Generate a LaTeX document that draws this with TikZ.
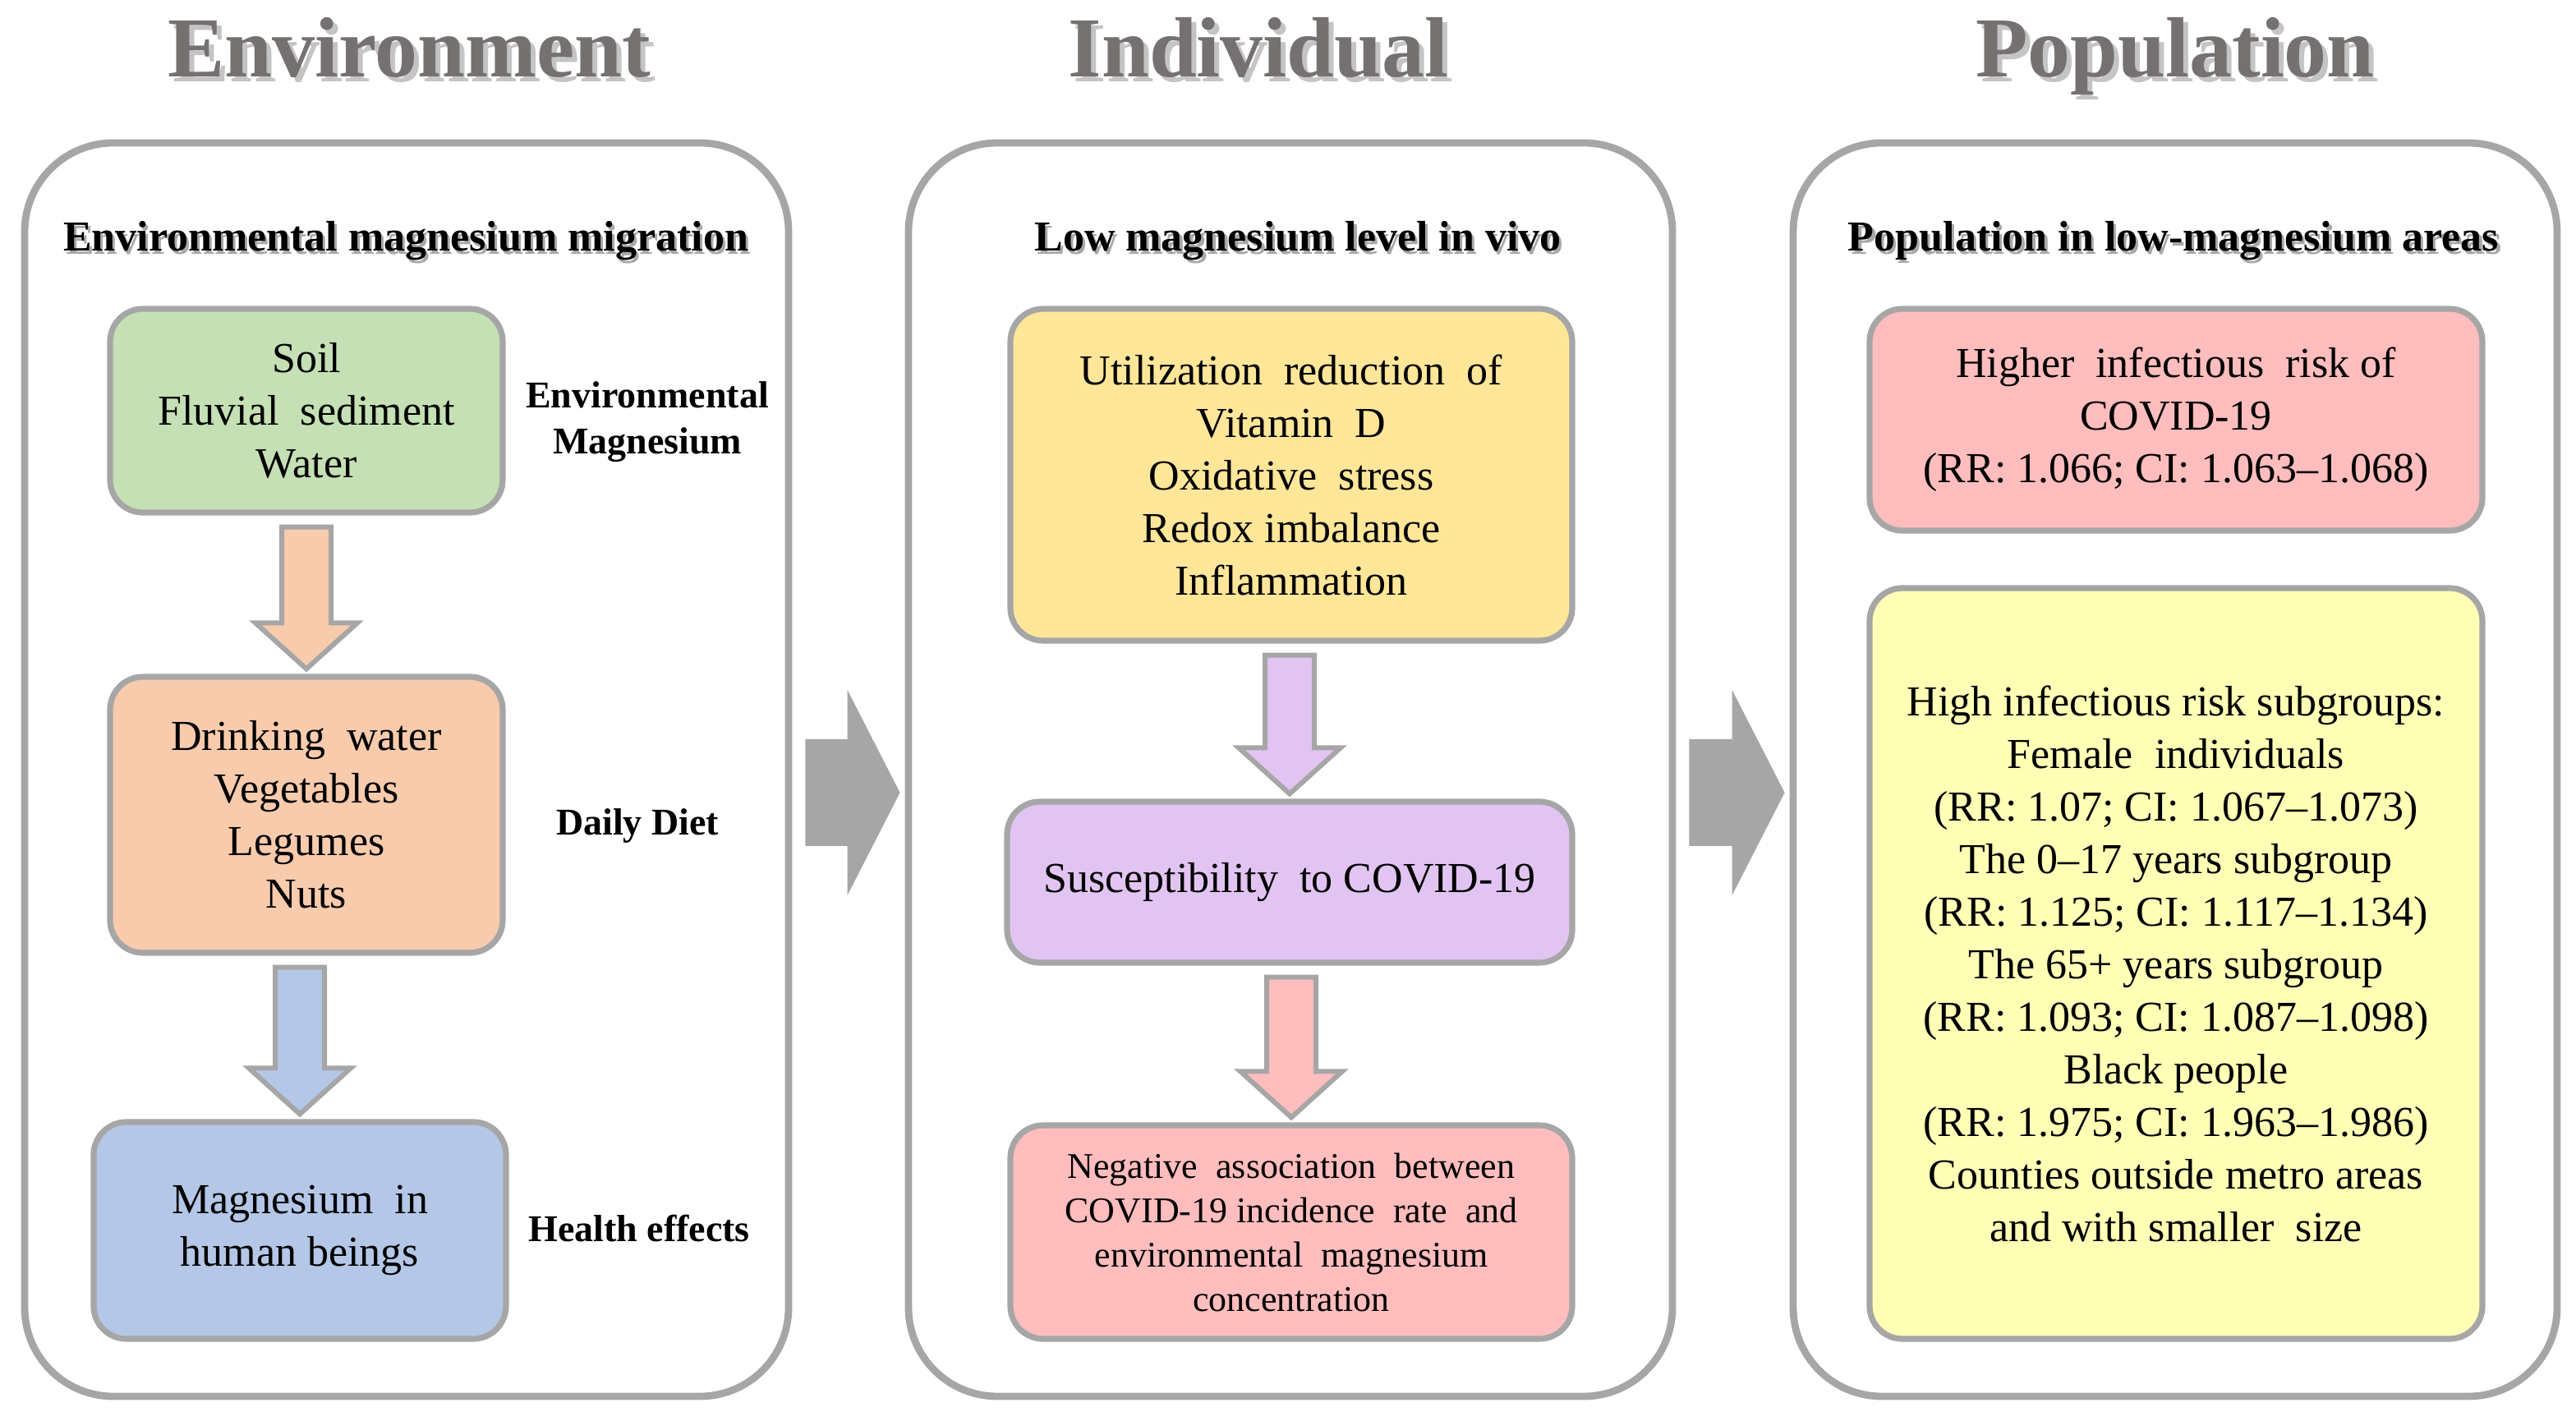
\documentclass[tikz,border=0pt]{standalone}
\usepackage{fontspec}
\setmainfont{Liberation Serif}
\usetikzlibrary{calc}

\definecolor{framegray}{HTML}{A6A6A6}
\definecolor{titlegray}{HTML}{767171}
\definecolor{titleshadow}{HTML}{C4C4C4}
\definecolor{subshadow}{HTML}{A8A8A8}
\definecolor{greenfill}{HTML}{C5E0B4}
\definecolor{orangefill}{HTML}{F8CBAD}
\definecolor{bluefill}{HTML}{B4C7E7}
\definecolor{yellowfill}{HTML}{FFE699}
\definecolor{lavenderfill}{HTML}{E2C4F2}
\definecolor{pinkfill}{HTML}{FFBDBD}
\definecolor{paleyellow}{HTML}{FFFFB5}

\newcommand{\shadowtext}[3]{\makebox[0pt][l]{\hspace{#2}\raisebox{-#2}{\textcolor{#3}{#1}}}#1}

\begin{document}
\begin{tikzpicture}[x=1pt, y=1pt,
  panel/.style={draw=framegray, line width=2.2pt, rounded corners=27pt, minimum width=232.5pt, minimum height=381.5pt},
  box/.style={draw=framegray, line width=1.8pt, rounded corners=10pt, align=center, inner sep=0pt, font=\fontsize{13}{16}\selectfont},
  heading/.style={anchor=base, text=titlegray, font=\fontsize{26}{30}\selectfont\bfseries},
  subheading/.style={anchor=base, font=\fontsize{13}{16}\selectfont\bfseries},
  sidelabel/.style={align=center, font=\fontsize{11.5}{14}\selectfont\bfseries},
  fat down/.style={draw=framegray, line width=1.5pt, line join=miter,
    to path={let \p1=(\tikztostart.south), \p2=(\tikztotarget.north) in
      (\x2-7.5pt,\y1-3.5pt) -- (\x2-7.5pt,\y2+15.5pt) -- (\x2-15.5pt,\y2+15.5pt) -- (\x2,\y2+1.5pt)
      -- (\x2+15.5pt,\y2+15.5pt) -- (\x2+7.5pt,\y2+15.5pt) -- (\x2+7.5pt,\y1-3.5pt) -- cycle}},
  fat right/.style={fill=framegray,
    to path={let \p1=(\tikztostart.east), \p2=(\tikztotarget.west) in
      (\x1+4pt,\y1+9.25pt) -- (\x2-17.5pt,\y1+9.25pt) -- (\x2-17.5pt,\y1+24.25pt) -- (\x2-1.5pt,\y1-7pt)
      -- (\x2-17.5pt,\y1-38.25pt) -- (\x2-17.5pt,\y1-23.25pt) -- (\x1+4pt,\y1-23.25pt) -- cycle}}]
  \useasboundingbox (0,0) rectangle (784,-432.5);

  % titles
  \draw (124.5,-23.5) node[heading](envtitle){\shadowtext{Environment}{1.5pt}{titleshadow}};
  \draw (383,-23.5) node[heading](indtitle){\shadowtext{Individual}{1.5pt}{titleshadow}};
  \draw (662,-23.5) node[heading](poptitle){\shadowtext{Population}{1.5pt}{titleshadow}};

  % panels
  \draw (123.75,-234.25) node[panel](env){};
  \draw (392.75,-234.25) node[panel](ind){};
  \draw (662,-234.25) node[panel](pop){};
  \draw (123.5,-76.5) node[subheading](envhead){\shadowtext{Environmental magnesium migration}{0.8pt}{subshadow}};
  \draw (395,-76.5) node[subheading](indhead){\shadowtext{Low magnesium level in vivo}{0.8pt}{subshadow}};
  \draw (661.5,-76.5) node[subheading](pophead){\shadowtext{Population in low-magnesium areas}{0.8pt}{subshadow}};

  % environment
  \draw (93.25,-125) node[box, fill=greenfill, minimum width=119.5pt, minimum height=62pt](soil){Soil\\Fluvial\ \ sediment\\Water};
  \draw (93.25,-248) node[box, fill=orangefill, minimum width=119.5pt, minimum height=84pt](diet){Drinking\ \ water\\Vegetables\\Legumes\\Nuts};
  \draw (91.25,-374.5) node[box, fill=bluefill, minimum width=125.5pt, minimum height=66pt](human){Magnesium\ \ in\\human beings};
  \draw (197,-128.5) node[sidelabel](envmg){Environmental\\Magnesium};
  \draw (194,-251.5) node[sidelabel](diettag){Daily Diet};
  \draw (194.5,-374) node[sidelabel](healthtag){Health effects};

  % individual
  \draw (393,-144.5) node[box, fill=yellowfill, minimum width=171pt, minimum height=101pt](factors){Utilization\ \ reduction\ \ of\\Vitamin\ \ D\\Oxidative\ \ stress\\Redox imbalance\\Inflammation};
  \draw (392.5,-268.5) node[box, fill=lavenderfill, minimum width=172pt, minimum height=49pt](suscept){Susceptibility\ \ to COVID-19};
  \draw (393,-375) node[box, fill=pinkfill, minimum width=171pt, minimum height=65pt, font=\fontsize{11}{13.5}\selectfont](negative){Negative\ \ association\ \ between\\COVID-19 incidence\ \ rate\ \ and\\environmental\ \ magnesium\\concentration};

  % population
  \draw (662.25,-127.75) node[box, fill=pinkfill, minimum width=186.5pt, minimum height=67.5pt](risk){Higher\ \ infectious\ \ risk of\\COVID-19\\(RR: 1.066; CI: 1.063–1.068)};
  \draw (662.25,-293.25) node[box, fill=paleyellow, minimum width=186.5pt, minimum height=228.5pt](subgroups){High infectious risk subgroups:\\Female\ \ individuals\\(RR: 1.07; CI: 1.067–1.073)\\The 0–17 years subgroup\\(RR: 1.125; CI: 1.117–1.134)\\The 65+ years subgroup\\(RR: 1.093; CI: 1.087–1.098)\\Black people\\(RR: 1.975; CI: 1.963–1.986)\\Counties outside metro areas\\and with smaller\ \ size};

  % arrows
  \draw[fat down, fill=orangefill] (soil) to (diet);
  \draw[fat down, fill=bluefill] (diet) to (human);
  \draw[fat down, fill=lavenderfill] (factors) to (suscept);
  \draw[fat down, fill=pinkfill] (suscept) to (negative);
  \path[fat right] (env) to (ind);
  \path[fat right] (ind) to (pop);
\end{tikzpicture}
\end{document}
